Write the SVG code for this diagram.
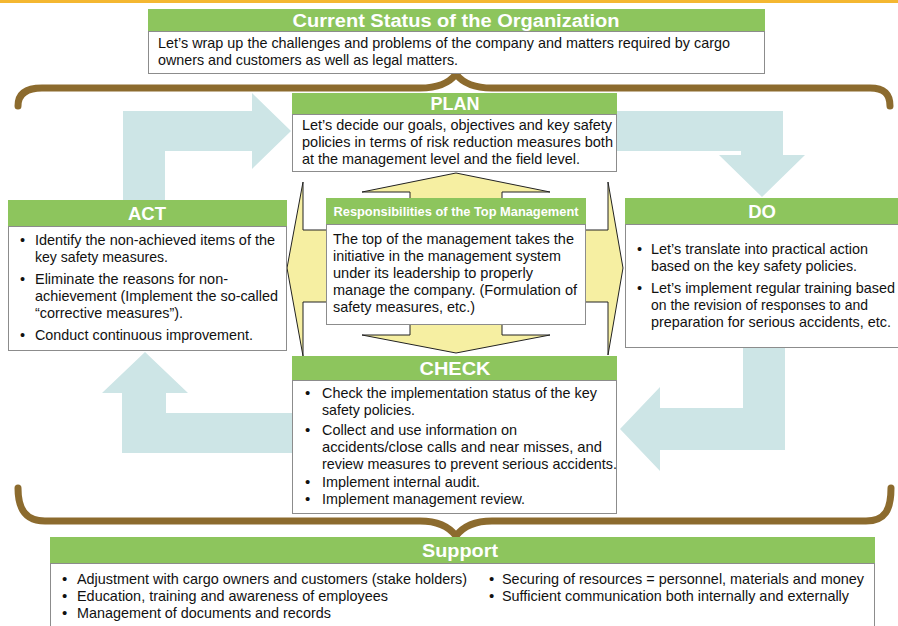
<svg xmlns="http://www.w3.org/2000/svg" width="898" height="626" viewBox="0 0 898 626">
<defs>
<style>
.hd{fill:#8dc55d;}
.bd{fill:#ffffff;stroke:#8c8c8c;stroke-width:1;}
.ht{font-family:"Liberation Sans",Arial,sans-serif;font-weight:bold;fill:#ffffff;text-anchor:middle;}
.tx{font-family:"Liberation Sans",Arial,sans-serif;font-size:14.5px;fill:#111111;}
.nx{font-family:"Liberation Sans",Arial,sans-serif;font-size:15px;fill:#111111;}
.arr{fill:#cde5e6;}
.brace{fill:none;stroke:#8c6b2e;stroke-width:7;stroke-linecap:round;stroke-linejoin:round;}
.yel{fill:#f6efa2;stroke:#222222;stroke-width:1;stroke-linejoin:miter;}
</style>
</defs>
<rect x="0" y="0" width="898" height="3" fill="#f4b731"/>
<g id="connectors">
<polygon class="arr" points="123,200 123,111 252,111 252,93 291,131 252,169 252,151 165,151 165,200"/>
<polygon class="arr" points="617,111 783,111 783,155 805,155 762,197 719,155 741,155 741,151 617,151"/>
<polygon class="arr" points="743,348 785,348 785,450 660,450 660,471 620,429 660,387 660,408 743,408"/>
<polygon class="arr" points="292,413 292,453 122,453 122,393 102,393 145,352 188,393 166,393 166,413"/>
<polygon class="yel" points="456,173 550,192 502,192 502,230 608,230 608,182 623,268 608,355 608,302 502,302 502,335 550,335 456,353 362,335 410,335 410,302 303,302 303,356 287,268 303,182 303,230 410,230 410,192 362,192"/>
<path class="brace" d="M18,106 C18,94 26,88 42,88 L420,88 C440,88 450,82 456,74 C462,82 472,88 492,88 L870,88 C884,88 890,94 890,106"/>
<path class="brace" d="M18,488 C18,510 26,521 45,521 L420,521 C440,521 450,528 456,536 C462,528 472,521 492,521 L866,521 C885,521 891,510 891,488"/>
</g>
<g id="current-status">
<rect class="hd" x="148" y="9" width="617" height="22"/>
<rect class="bd" x="148.5" y="31.5" width="616" height="42"/>
<text class="ht" x="456" y="27" font-size="18" textLength="327" lengthAdjust="spacingAndGlyphs">Current Status of the Organization</text>
<text class="nx" x="158" y="48" textLength="572" lengthAdjust="spacingAndGlyphs">Let’s wrap up the challenges and problems of the company and matters required by cargo</text>
<text class="nx" x="158" y="65" textLength="300" lengthAdjust="spacingAndGlyphs">owners and customers as well as legal matters.</text>
</g>
<g id="plan">
<rect class="hd" x="292" y="93" width="325" height="21"/>
<rect class="bd" x="292.5" y="114.5" width="324" height="57"/>
<text class="ht" x="455" y="110" font-size="18">PLAN</text>
<text class="tx" x="302" y="130" textLength="310" lengthAdjust="spacingAndGlyphs">Let’s decide our goals, objectives and key safety</text>
<text class="tx" x="302" y="147" textLength="311" lengthAdjust="spacingAndGlyphs">policies in terms of risk reduction measures both</text>
<text class="tx" x="302" y="164" textLength="278" lengthAdjust="spacingAndGlyphs">at the management level and the field level.</text>
</g>
<g id="act">
<rect class="hd" x="8" y="200" width="279" height="26"/>
<rect class="bd" x="8.5" y="226.5" width="278" height="124"/>
<text class="ht" x="147" y="220" font-size="18.5">ACT</text>
<text class="tx" x="20" y="245">•</text>
<text class="tx" x="35" y="245" textLength="240" lengthAdjust="spacingAndGlyphs">Identify the non-achieved items of the</text>
<text class="tx" x="35" y="262" textLength="133" lengthAdjust="spacingAndGlyphs">key safety measures.</text>
<text class="tx" x="20" y="284">•</text>
<text class="tx" x="35" y="284" textLength="193" lengthAdjust="spacingAndGlyphs">Eliminate the reasons for non-</text>
<text class="tx" x="35" y="301" textLength="243" lengthAdjust="spacingAndGlyphs">achievement (Implement the so-called</text>
<text class="tx" x="35" y="318" textLength="148" lengthAdjust="spacingAndGlyphs">“corrective measures”).</text>
<text class="tx" x="20" y="340">•</text>
<text class="tx" x="35" y="340" textLength="218" lengthAdjust="spacingAndGlyphs">Conduct continuous improvement.</text>
</g>
<g id="do">
<rect class="hd" x="625" y="198" width="273" height="26"/>
<rect class="bd" x="625.5" y="224.5" width="280" height="123"/>
<text class="ht" x="762" y="218" font-size="18.5">DO</text>
<text class="tx" x="637" y="254">•</text>
<text class="tx" x="651" y="254" textLength="217" lengthAdjust="spacingAndGlyphs">Let’s translate into practical action</text>
<text class="tx" x="651" y="271" textLength="206" lengthAdjust="spacingAndGlyphs">based on the key safety policies.</text>
<text class="tx" x="637" y="293">•</text>
<text class="tx" x="651" y="293" textLength="244" lengthAdjust="spacingAndGlyphs">Let’s implement regular training based</text>
<text class="tx" x="651" y="310" textLength="217" lengthAdjust="spacingAndGlyphs">on the revision of responses to and</text>
<text class="tx" x="651" y="327" textLength="240" lengthAdjust="spacingAndGlyphs">preparation for serious accidents, etc.</text>
</g>
<g id="responsibilities">
<rect class="hd" x="326" y="198" width="260" height="26"/>
<rect class="bd" x="326.5" y="224.5" width="259" height="100"/>
<text class="ht" x="456" y="216" font-size="13" textLength="245" lengthAdjust="spacingAndGlyphs">Responsibilities of the Top Management</text>
<text class="tx" x="333" y="244" textLength="241" lengthAdjust="spacingAndGlyphs">The top of the management takes the</text>
<text class="tx" x="333" y="261" textLength="228" lengthAdjust="spacingAndGlyphs">initiative in the management system</text>
<text class="tx" x="333" y="278" textLength="200" lengthAdjust="spacingAndGlyphs">under its leadership to properly</text>
<text class="tx" x="333" y="295" textLength="244" lengthAdjust="spacingAndGlyphs">manage the company. (Formulation of</text>
<text class="tx" x="333" y="312" textLength="142" lengthAdjust="spacingAndGlyphs">safety measures, etc.)</text>
</g>
<g id="check">
<rect class="hd" x="292" y="356" width="325" height="24"/>
<rect class="bd" x="292.5" y="380.5" width="324" height="133"/>
<text class="ht" x="455" y="375" font-size="18.5" textLength="71" lengthAdjust="spacingAndGlyphs">CHECK</text>
<text class="nx" x="305" y="398">•</text>
<text class="nx" x="322" y="398" textLength="275" lengthAdjust="spacingAndGlyphs">Check the implementation status of the key</text>
<text class="nx" x="322" y="415" textLength="93" lengthAdjust="spacingAndGlyphs">safety policies.</text>
<text class="nx" x="305" y="435">•</text>
<text class="nx" x="322" y="435" textLength="195" lengthAdjust="spacingAndGlyphs">Collect and use information on</text>
<text class="nx" x="322" y="452" textLength="280" lengthAdjust="spacingAndGlyphs">accidents/close calls and near misses, and</text>
<text class="nx" x="322" y="469" textLength="295" lengthAdjust="spacingAndGlyphs">review measures to prevent serious accidents.</text>
<text class="nx" x="305" y="487">•</text>
<text class="nx" x="322" y="487" textLength="158" lengthAdjust="spacingAndGlyphs">Implement internal audit.</text>
<text class="nx" x="305" y="504">•</text>
<text class="nx" x="322" y="504" textLength="203" lengthAdjust="spacingAndGlyphs">Implement management review.</text>
</g>
<g id="support">
<rect class="hd" x="50" y="537" width="825" height="26"/>
<rect class="bd" x="50.5" y="563.5" width="824" height="70"/>
<text class="ht" x="460" y="557" font-size="18.5" textLength="76" lengthAdjust="spacingAndGlyphs">Support</text>
<text class="nx" x="62" y="584">•</text>
<text class="nx" x="77" y="584" textLength="390" lengthAdjust="spacingAndGlyphs">Adjustment with cargo owners and customers (stake holders)</text>
<text class="nx" x="62" y="601">•</text>
<text class="nx" x="77" y="601" textLength="311" lengthAdjust="spacingAndGlyphs">Education, training and awareness of employees</text>
<text class="nx" x="62" y="618">•</text>
<text class="nx" x="77" y="618" textLength="254" lengthAdjust="spacingAndGlyphs">Management of documents and records</text>
<text class="nx" x="489" y="584">•</text>
<text class="nx" x="502" y="584" textLength="362" lengthAdjust="spacingAndGlyphs">Securing of resources = personnel, materials and money</text>
<text class="nx" x="489" y="601">•</text>
<text class="nx" x="502" y="601" textLength="347" lengthAdjust="spacingAndGlyphs">Sufficient communication both internally and externally</text>
</g>
</svg>
